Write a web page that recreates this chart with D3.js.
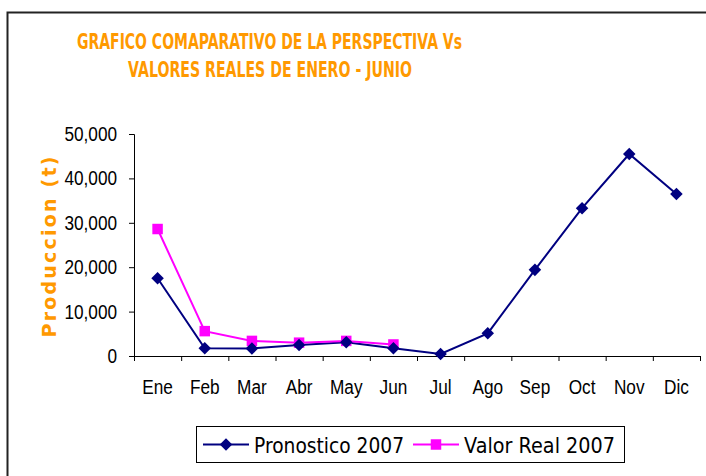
<!DOCTYPE html>
<html>
<head>
<meta charset="utf-8">
<script src="https://cdn.jsdelivr.net/npm/d3@7"></script>
<style>
  html, body { margin: 0; padding: 0; background: #ffffff; }
  svg { display: block; }
</style>
</head>
<body>
<svg id="chart" width="706" height="476"></svg>
<script>
const months = ["Ene", "Feb", "Mar", "Abr", "May", "Jun", "Jul", "Ago", "Sep", "Oct", "Nov", "Dic"];
const pronostico = [17500, 1750, 1700, 2500, 3100, 1750, 450, 5100, 19400, 33300, 45500, 36500];
const valorReal = [28600, 5600, 3400, 3000, 3400, 2600];
const yTicks = [0, 10000, 20000, 30000, 40000, 50000];
const titleLines = ["GRAFICO COMAPARATIVO DE LA PERSPECTIVA Vs", "VALORES REALES DE ENERO - JUNIO"];

const NAVY = "#000080";
const MAGENTA = "#ff00ff";
const ORANGE = "#ff9900";
const SQUEEZE = 0.86;

const svg = d3.select("#chart");

// outer frame, runs past the right and bottom edges like the picture
svg.append("rect")
  .attr("x", 7.5).attr("y", 12.5)
  .attr("width", 720).attr("height", 480)
  .attr("fill", "none").attr("stroke", "#222").attr("stroke-width", 2);

const title = svg.append("g")
  .attr("font-family", "'DejaVu Sans', Verdana, sans-serif")
  .attr("font-weight", "bold")
  .attr("font-size", 21)
  .attr("fill", ORANGE)
  .attr("text-anchor", "middle");
title.append("text").attr("x", 269.5).attr("y", 49)
  .attr("textLength", 385).attr("lengthAdjust", "spacingAndGlyphs")
  .text(titleLines[0]);
title.append("text").attr("x", 270).attr("y", 77)
  .attr("textLength", 284).attr("lengthAdjust", "spacingAndGlyphs")
  .text(titleLines[1]);

const x = d3.scaleBand().domain(months).range([134, 700]).padding(0);
const xEdge = d3.scaleLinear().domain([0, months.length]).range([134, 700]);
const y = d3.scaleLinear().domain([0, 50000]).range([356, 134]);

function squeeze(sel) {
  sel.each(function () {
    const w = this.getComputedTextLength();
    d3.select(this)
      .attr("textLength", w * SQUEEZE)
      .attr("lengthAdjust", "spacingAndGlyphs");
  });
}

// y axis
const gy = svg.append("g")
  .attr("transform", "translate(134,0)")
  .call(d3.axisLeft(y).tickValues(yTicks).tickSize(5).tickPadding(12)
    .tickFormat(d3.format(",")));
gy.selectAll("text")
  .attr("font-family", "'Liberation Sans', Arial, sans-serif")
  .attr("font-size", 20)
  .attr("fill", "#000")
  .call(squeeze);

// x axis: tick marks on category edges
svg.append("g")
  .attr("transform", "translate(0,356)")
  .call(d3.axisBottom(xEdge).tickValues(d3.range(months.length + 1)).tickSize(5).tickFormat(""));

const gx = svg.append("g")
  .attr("transform", "translate(0,356)")
  .call(d3.axisBottom(x).tickSize(0).tickPadding(24));
gx.select(".domain").remove();
gx.selectAll("text")
  .attr("font-family", "'Liberation Sans', Arial, sans-serif")
  .attr("font-size", 20)
  .attr("fill", "#000")
  .call(squeeze);

svg.selectAll(".domain, .tick line").attr("stroke", "#000");

// y axis title
svg.append("text")
  .attr("transform", "translate(55.5,247) rotate(-90)")
  .attr("text-anchor", "middle")
  .attr("font-family", "'DejaVu Sans', Verdana, sans-serif")
  .attr("font-weight", "bold")
  .attr("font-size", 19)
  .attr("fill", ORANGE)
  .attr("textLength", 181)
  .attr("lengthAdjust", "spacing")
  .text("Produccion (t)");

const cx = (d, i) => x(months[i]) + x.bandwidth() / 2;
const line = d3.line().x(cx).y((d) => y(d));

svg.append("path")
  .datum(pronostico)
  .attr("d", line)
  .attr("fill", "none").attr("stroke", NAVY).attr("stroke-width", 2);

svg.append("path")
  .datum(valorReal)
  .attr("d", line)
  .attr("fill", "none").attr("stroke", MAGENTA).attr("stroke-width", 2);

const diamond = d3.symbol().type(d3.symbolDiamond2).size(100);
const square = d3.symbol().type(d3.symbolSquare).size(110);

svg.append("g").selectAll("path")
  .data(valorReal)
  .join("path")
  .attr("transform", (d, i) => `translate(${cx(d, i)},${y(d)})`)
  .attr("d", square)
  .attr("fill", MAGENTA);

svg.append("g").selectAll("path")
  .data(pronostico)
  .join("path")
  .attr("transform", (d, i) => `translate(${cx(d, i)},${y(d)})`)
  .attr("d", diamond)
  .attr("fill", NAVY);

// legend
const legend = svg.append("g");
legend.append("rect")
  .attr("x", 196.5).attr("y", 426.5).attr("width", 428).attr("height", 36)
  .attr("fill", "#fff").attr("stroke", "#000").attr("stroke-width", 1);

const legendItems = [
  { name: "Pronostico 2007", color: NAVY, symbol: diamond, x0: 203, tx: 254, tw: 150 },
  { name: "Valor Real 2007", color: MAGENTA, symbol: square, x0: 413, tx: 464, tw: 151 },
];
legendItems.forEach((it) => {
  legend.append("line")
    .attr("x1", it.x0).attr("x2", it.x0 + 46)
    .attr("y1", 444.5).attr("y2", 444.5)
    .attr("stroke", it.color).attr("stroke-width", 2);
  legend.append("path")
    .attr("transform", `translate(${it.x0 + 23},444.5)`)
    .attr("d", it.symbol)
    .attr("fill", it.color);
  legend.append("text")
    .attr("x", it.tx).attr("y", 453)
    .attr("font-family", "'DejaVu Sans', Verdana, sans-serif")
    .attr("font-size", 21)
    .attr("fill", "#000")
    .attr("textLength", it.tw)
    .attr("lengthAdjust", "spacingAndGlyphs")
    .text(it.name);
});
</script>
</body>
</html>
